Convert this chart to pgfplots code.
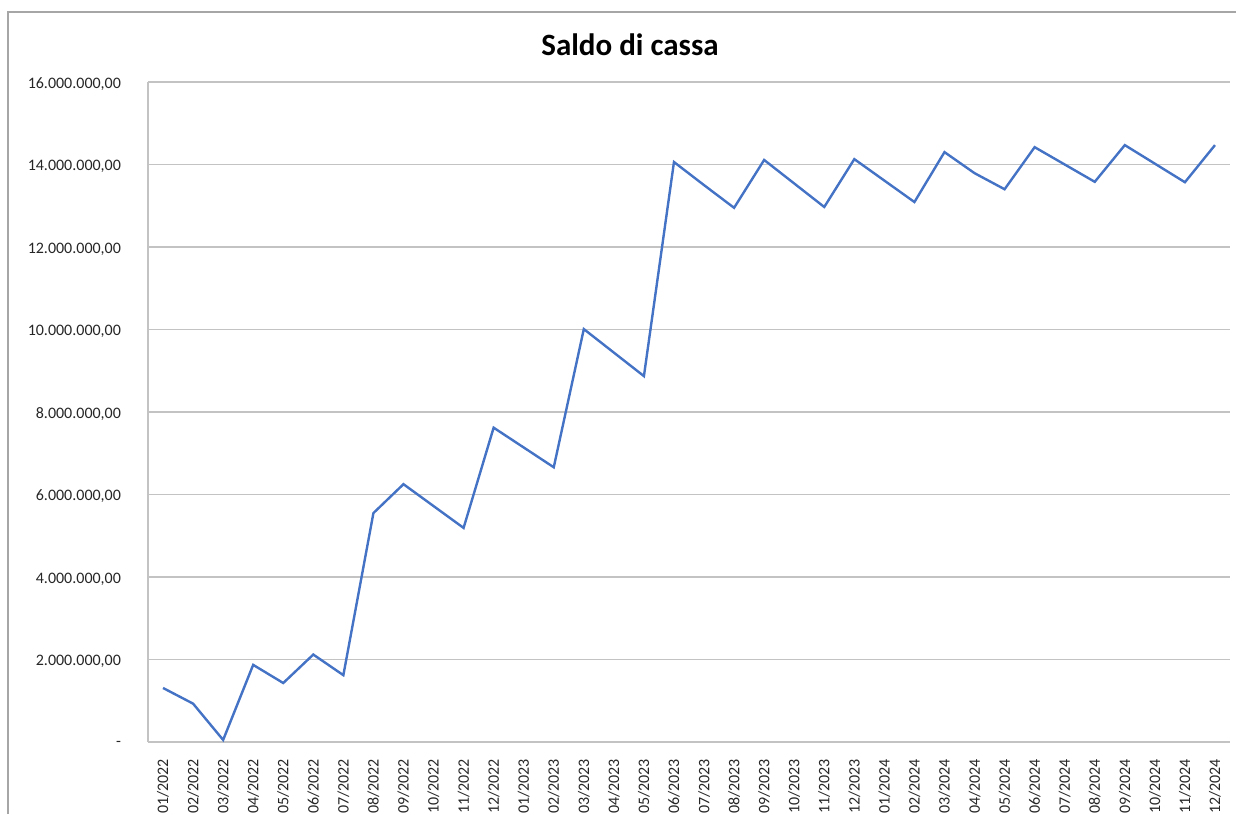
\documentclass[border=0pt]{standalone}
\usepackage{fontspec}
\setmainfont{Carlito}
\usepackage{pgfplots}
\pgfplotsset{compat=1.18}
\definecolor{xlblue}{RGB}{68,114,196}
\definecolor{gridgray}{RGB}{195,195,195}

\begin{document}
\begin{tikzpicture}
% page: 1236x814 px at 0.5pt per px
\path[use as bounding box] (0,0) rectangle (618pt,407pt);
\draw[gray!70, line width=0.6pt] (4pt,0) -- (4pt,401pt) -- (620pt,401pt);
\node[font=\bfseries\fontsize{15.5}{18}\selectfont] at (315pt,384.5pt) {Saldo di cassa};
\begin{axis}[
    at={(74pt,36pt)}, anchor=south west,
    scale only axis,
    width=541pt, height=330pt,
    xmin=-0.5, xmax=35.5,
    ymin=0, ymax=16000000,
    axis line style={draw=none},
    xtick={0,...,35},
    xticklabels={01/2022,02/2022,03/2022,04/2022,05/2022,06/2022,07/2022,08/2022,09/2022,10/2022,11/2022,12/2022,
                 01/2023,02/2023,03/2023,04/2023,05/2023,06/2023,07/2023,08/2023,09/2023,10/2023,11/2023,12/2023,
                 01/2024,02/2024,03/2024,04/2024,05/2024,06/2024,07/2024,08/2024,09/2024,10/2024,11/2024,12/2024},
    ytick={0,2000000,4000000,6000000,8000000,10000000,12000000,14000000,16000000},
    yticklabels={{-\hspace{9pt}},{2.000.000,00},{4.000.000,00},{6.000.000,00},{8.000.000,00},{10.000.000,00},{12.000.000,00},{14.000.000,00},{16.000.000,00}},
    major tick length=0pt,
    ymajorgrids,
    grid style={gridgray, line width=0.6pt},
    x tick label style={rotate=90, anchor=east, font=\fontsize{8}{9.6}\selectfont, text=black!85, xshift=-5pt},
    y tick label style={anchor=east, font=\fontsize{8}{9.6}\selectfont, text=black!85, xshift=-10pt, yshift=-1pt},
    scaled y ticks=false,
    clip=false,
]
\draw[gridgray, line width=0.6pt] (rel axis cs:0,0) -- (rel axis cs:0,1);
\draw[gridgray, line width=0.6pt] (rel axis cs:0,0) -- (rel axis cs:1,0);
\addplot[xlblue, line width=1.2pt, mark=none] coordinates {
(0,1310000) (1,930000) (2,50000) (3,1870000) (4,1430000) (5,2120000)
(6,1620000) (7,5550000) (8,6250000) (9,5720000) (10,5190000) (11,7620000)
(12,7140000) (13,6660000) (14,10010000) (15,9440000) (16,8870000) (17,14060000)
(18,13500000) (19,12950000) (20,14110000) (21,13540000) (22,12970000) (23,14130000)
(24,13610000) (25,13090000) (26,14300000) (27,13790000) (28,13400000) (29,14420000)
(30,14000000) (31,13580000) (32,14470000) (33,14020000) (34,13570000) (35,14470000)
};
\end{axis}
\end{tikzpicture}
\end{document}
